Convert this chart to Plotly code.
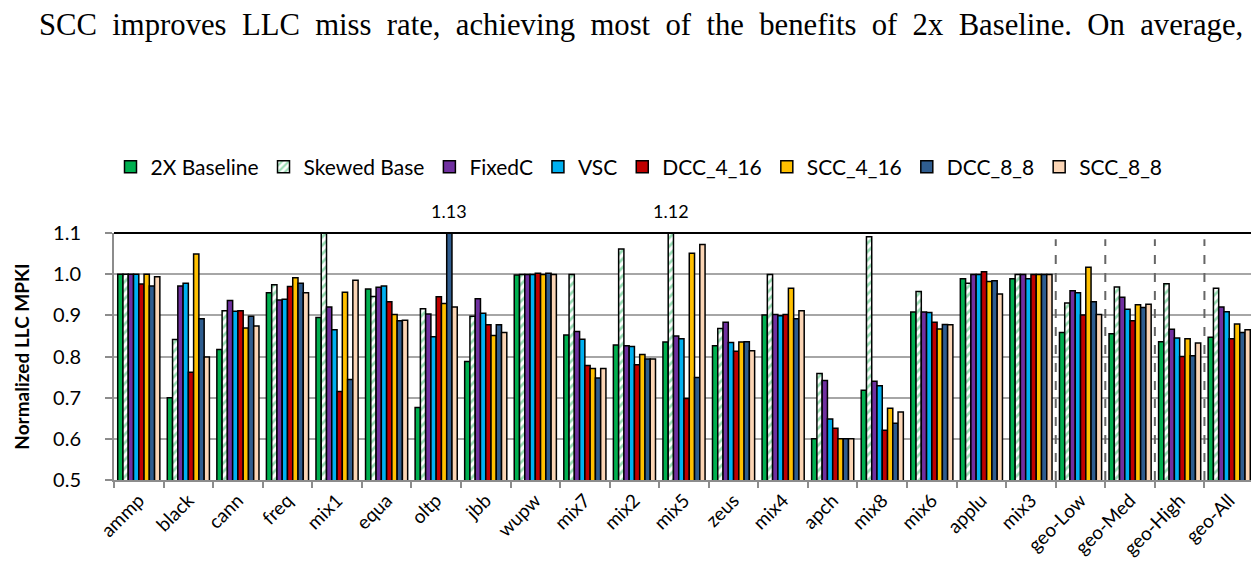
import plotly.graph_objects as go

categories = ["ammp", "black", "cann", "freq", "mix1", "equa", "oltp", "jbb", "wupw",
              "mix7", "mix2", "mix5", "zeus", "mix4", "apch", "mix8", "mix6", "applu",
              "mix3", "geo-Low", "geo-Med", "geo-High", "geo-All"]

baseline_2x = [1.00, 0.70, 0.817, 0.955, 0.895, 0.964, 0.676, 0.788, 0.998, 0.852, 0.828, 0.835,
               0.826, 0.901, 0.600, 0.718, 0.908, 0.989, 0.989, 0.858, 0.855, 0.836, 0.847]
skewed_base = [1.00, 0.841, 0.911, 0.974, 1.10, 0.946, 0.916, 0.898, 0.999, 0.999, 1.061, 1.12,
               0.868, 0.999, 0.759, 1.091, 0.958, 0.978, 0.999, 0.930, 0.969, 0.977, 0.966]
fixed_c = [1.00, 0.971, 0.936, 0.937, 0.920, 0.968, 0.903, 0.940, 0.999, 0.861, 0.826, 0.850,
           0.883, 0.902, 0.742, 0.740, 0.908, 0.999, 0.999, 0.960, 0.944, 0.866, 0.920]
vsc = [1.00, 0.978, 0.910, 0.939, 0.865, 0.971, 0.848, 0.905, 0.999, 0.842, 0.824, 0.843,
       0.834, 0.899, 0.648, 0.729, 0.907, 0.999, 0.989, 0.955, 0.915, 0.845, 0.909]
dcc_4_16 = [0.976, 0.762, 0.911, 0.970, 0.715, 0.933, 0.945, 0.877, 1.002, 0.778, 0.780, 0.698,
            0.813, 0.902, 0.626, 0.621, 0.883, 1.006, 0.999, 0.901, 0.887, 0.800, 0.843]
scc_4_16 = [1.00, 1.049, 0.869, 0.991, 0.956, 0.902, 0.929, 0.851, 0.999, 0.771, 0.805, 1.051,
            0.835, 0.966, 0.600, 0.674, 0.867, 0.982, 0.999, 1.017, 0.926, 0.843, 0.879]
dcc_8_8 = [0.971, 0.892, 0.898, 0.978, 0.744, 0.887, 1.13, 0.877, 1.002, 0.748, 0.794, 0.749,
           0.836, 0.892, 0.600, 0.638, 0.878, 0.984, 0.999, 0.933, 0.919, 0.802, 0.858]
scc_8_8 = [0.994, 0.799, 0.874, 0.955, 0.985, 0.888, 0.920, 0.858, 0.999, 0.771, 0.794, 1.072,
           0.814, 0.911, 0.600, 0.665, 0.877, 0.952, 0.999, 0.902, 0.927, 0.833, 0.865]

series = [
    ("2X Baseline", baseline_2x, "#00B050"),
    ("Skewed Base", skewed_base, "white"),
    ("FixedC", fixed_c, "#7030A0"),
    ("VSC", vsc, "#00B0F0"),
    ("DCC_4_16", dcc_4_16, "#C00000"),
    ("SCC_4_16", scc_4_16, "#FFC000"),
    ("DCC_8_8", dcc_8_8, "#2F5D8F"),
    ("SCC_8_8", scc_8_8, "#FBD5B5"),
]

sentence = "SCC improves LLC miss rate, achieving most of the benefits of 2x Baseline. On average,"

font = "Lato, 'Noto Sans', sans-serif"
W, H = 1259, 569
ML, MR, MT, MB = 106, 13, 225, 97
YMIN, YMAX = 0.5, 1.1

fig = go.Figure()
for name, vals, color in series:
    if name == "Skewed Base":
        marker = dict(color="white", line=dict(color="black", width=1.5),
                      pattern=dict(shape="/", fgcolor="#2DB865", bgcolor="white",
                                   size=6, solidity=0.45))
    else:
        marker = dict(color=color, line=dict(color="black", width=1.5))
    fig.add_trace(go.Bar(x=categories, y=vals, name=name, marker=marker))

# labels for bars that go past the top of the axis
n = len(series)
plot_w = W - ML - MR
cat_w = plot_w / len(categories)
bargap = 0.15
bar_w = cat_w * (1 - bargap) / n
for si, (name, vals, color) in enumerate(series):
    for ci, v in enumerate(vals):
        if v > YMAX + 0.005:
            fig.add_annotation(x=categories[ci], y=YMAX, yref="y", text=f"{v:.2f}",
                               showarrow=False, yanchor="bottom", yshift=9,
                               xshift=(si - (n - 1) / 2) * bar_w,
                               font=dict(family=font, size=18, color="black"))

# dashed separators between the geo-mean groups
for b in [18.5, 19.5, 20.5, 21.5]:
    fig.add_shape(type="line", x0=b, x1=b, y0=YMIN, y1=1.085, xref="x", yref="y",
                  line=dict(color="#666666", width=2, dash="dash"))

# black border along the top and right of the plot area
fig.add_shape(type="line", x0=0, x1=1, y0=1, y1=1, xref="paper", yref="paper",
              line=dict(color="black", width=2))
fig.add_shape(type="line", x0=1, x1=1, y0=0, y1=1, xref="paper", yref="paper",
              line=dict(color="black", width=1.5))

# text line above the figure is justified in the source page: widen the spaces
justified = sentence.replace(" ", " &nbsp;")

fig.update_layout(
    width=W, height=H,
    margin=dict(l=ML, r=MR, t=MT, b=MB),
    barmode="group", bargap=bargap, bargroupgap=0,
    plot_bgcolor="white", paper_bgcolor="white",
    title=dict(text=justified,
               x=31 / W, xanchor="left", y=1 - 16 / H, yanchor="middle",
               font=dict(family="'Liberation Serif', 'Times New Roman', serif", size=30.7, color="black")),
    legend=dict(orientation="h", x=(631 - ML) / plot_w, xanchor="center",
                y=1 + (MT - 159) / (H - MT - MB),
                yanchor="middle", font=dict(family=font, size=21, color="black"),
                itemwidth=30, traceorder="normal"),
    xaxis=dict(tickangle=-45, tickfont=dict(family=font, size=19, color="black"),
               showline=True, linecolor="#8c8c8c", linewidth=2,
               ticks="outside", tickson="boundaries", ticklen=6, tickcolor="#8c8c8c",
               tickwidth=1.5, showgrid=False),
    yaxis=dict(range=[YMIN, YMAX], dtick=0.1, tickformat=".1f",
               tickfont=dict(family=font, size=20, color="black"),
               showline=True, linecolor="#8c8c8c", linewidth=2,
               ticks="outside", ticklen=7, tickcolor="#8c8c8c", tickwidth=1.5,
               ticklabelstandoff=20,
               showgrid=True, gridcolor="#a6a6a6", gridwidth=1.5, zeroline=False,
               title=dict(text="<b>Normalized LLC MPKI</b>", standoff=18,
                          font=dict(family=font, size=19, color="black"))),
)

fig.write_html("out.html")
